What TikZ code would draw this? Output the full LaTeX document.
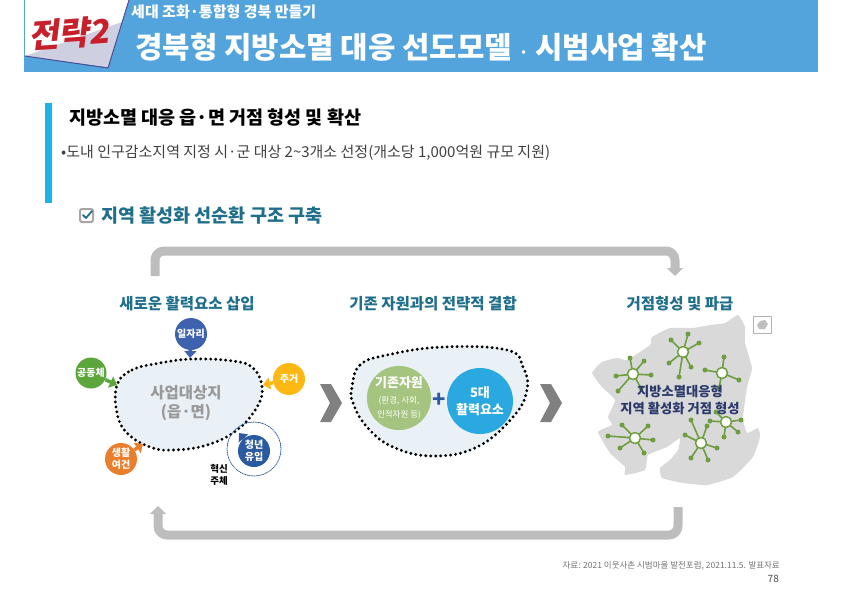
\documentclass[tikz,border=0pt]{standalone}
\usepackage{fontspec}
\setmainfont{Noto Sans CJK KR}
\usetikzlibrary{arrows.meta}
\newcommand{\fsz}[1]{\fontsize{#1}{#1}\selectfont}
\definecolor{headblue}{HTML}{53A4DC}
\definecolor{barblue}{HTML}{1CB5E5}
\definecolor{tealtext}{HTML}{1F6F8B}
\definecolor{tagred}{HTML}{C8202B}
\definecolor{navytext}{HTML}{2B3A6B}
\definecolor{loopgray}{HTML}{BDBDBD}
\definecolor{blobfill}{HTML}{E9F1F6}
\definecolor{mapgray}{HTML}{D9D9D9}
\definecolor{spokegreen}{HTML}{6E9E3F}
\definecolor{jobblue}{HTML}{3F62AE}
\definecolor{commgreen}{HTML}{5CA63C}
\definecolor{homeyellow}{HTML}{FDB813}
\definecolor{lifeorange}{HTML}{E97F2C}
\definecolor{youthblue}{HTML}{2C5AA0}
\definecolor{stockgreen}{HTML}{A5C47F}
\definecolor{fiveblue}{HTML}{29A9E0}
\tikzset{
  lefttext/.style={anchor=west, inner sep=0pt},
  coltitle/.style={inner sep=0pt, text=tealtext, font=\fsz{15.5}\bfseries},
  pin/.style={circle, minimum size=#1, inner sep=0pt, text=white, align=center, font=\fsz{10}\bfseries},
  pinarrow/.style={-{Triangle[length=7pt,width=12pt]}, line width=3.5pt, line cap=butt},
  blobline/.style={line width=3.2pt, dash pattern=on 0pt off 5pt, fill=blobfill},
  loopline/.style={line width=9pt, loopgray, rounded corners=9pt, line cap=butt, -{Triangle[length=8pt,width=16pt]}},
  chevron/.style={fill=black!50},
  tip/.style={circle, fill=spokegreen, minimum size=5pt, inner sep=0pt},
  hub/.style={circle, draw=spokegreen, fill=white, line width=1.5pt, minimum size=11pt, inner sep=0pt},
}
\begin{document}
\begin{tikzpicture}[x=1pt, y=-1pt, line join=round, line cap=round]
  \useasboundingbox (0,0) rectangle (842,595);

  % Header band
  \fill[headblue] (24,0) rectangle (818,72);
  \fill[white] (25,0) -- (129,0) -- (108,67) -- (25,56) -- cycle;
  \fill[blue!25!gray!30] (25,56) -- (122,22) -- (108,67) -- cycle;
  \draw[line width=1pt, black!60!blue!70] (25,56) -- (108,68) -- (129,0);
  \node[inner sep=0pt, text=tagred, rotate=4, xslant=0.2, font=\fsz{33}\bfseries] (tag) at (71,33) {전략2};
  \node[lefttext, text=white, font=\fsz{15}\bfseries] (subtitle) at (131,12) {세대 조화·통합형 경북 만들기};
  \node[lefttext, text=white, font=\fsz{29.8}\bfseries] (title) at (135,47) {경북형 지방소멸 대응 선도모델 {\fsz{16}·} 시범사업 확산};

  % Section heading
  \fill[barblue] (45,103) rectangle (52,203);
  \node[lefttext, font=\fsz{18.5}\bfseries] (heading) at (69,118) {지방소멸 대응 읍·면 거점 형성 및 확산};
  \node[lefttext, text=black!75, font=\fsz{15}] (bullet) at (61,153) {•도내 인구감소지역 지정 시·군 대상 2\textasciitilde3개소 선정(개소당 1,000억원 규모 지원)};

  % Check box and sub heading
  \draw[gray!70, line width=2pt, rounded corners=2pt] (80,209) rectangle (93,222);
  \draw[tealtext, line width=1.8pt] (83,215) -- (86,218) -- (92,211);
  \node[lefttext, text=tealtext, font=\fsz{18.5}\bfseries] (sub) at (101,216) {지역 활성화 선순환 구조 구축};

  % Loop arrows
  \draw[loopline] (155,276) -- (155,251) -- (675,251) -- (675,276);
  \draw[loopline] (678,507) -- (678,535) -- (158,535) -- (158,506);

  % Column titles
  \node[coltitle] (col1) at (187,304) {새로운 활력요소 삽입};
  \node[coltitle] (col2) at (433,304) {기존 자원과의 전략적 결합};
  \node[coltitle] (col3) at (680,304) {거점형성 및 파급};

  % Left blob
  \draw[blobline] plot[smooth cycle, tension=0.7] coordinates {(117,385) (132,370) (160,363) (193,359) (233,361) (253,368) (262,387) (257,407) (237,430) (207,445) (173,450) (150,447) (127,433) (117,413)};
  \node[align=center, text=black!40, font=\fsz{15.5}\bfseries] (site) at (186,403) {사업대상지\\[3pt](읍·면)};

  % Inputs around the blob
  \draw[densely dotted, youthblue, line width=0.8pt] (254,449) circle (27);
  \node[pin=32pt, fill=jobblue] (jobs) at (191,334) {일자리};
  \node[pin=31pt, fill=commgreen] (comm) at (91,373) {공동체};
  \node[pin=32pt, fill=homeyellow] (home) at (289,379) {주거};
  \node[pin=32pt, fill=lifeorange] (life) at (121,459) {생활\\[2pt]여건};
  \node[pin=32pt, fill=youthblue] (youth) at (254,451) {청년\\[2pt]유입};
  \node[inner sep=0pt, align=center, font=\fsz{9.5}\bfseries] (agent) at (219,475) {혁신\\[2pt]주체};
  \coordinate (jobstip) at (190,358);
  \coordinate (commtip) at (117,385);
  \coordinate (hometip) at (263,385);
  \coordinate (lifetip) at (143,444);
  \coordinate (youthtip) at (239,433);
  \draw[pinarrow, jobblue] (jobs) -- (jobstip);
  \draw[pinarrow, commgreen] (comm) -- (commtip);
  \draw[pinarrow, homeyellow] (home) -- (hometip);
  \draw[pinarrow, lifeorange] (life) -- (lifetip);
  \draw[pinarrow, youthblue] (youth) -- (youthtip);

  % Chevrons
  \fill[chevron] (320,384) -- (331,384) -- (342,403) -- (331,422) -- (320,422) -- (330,403) -- cycle;
  \fill[chevron] (540,384) -- (551,384) -- (562,403) -- (551,422) -- (540,422) -- (550,403) -- cycle;

  % Middle blob
  \draw[blobline] plot[smooth cycle, tension=0.7] coordinates {(352,387) (360,365) (387,355) (443,347) (507,350) (523,367) (527,390) (513,417) (477,447) (433,456) (393,447) (367,427) (353,403)};
  \node[pin=62pt, fill=stockgreen, font=\fsz{13}\bfseries] (stock) at (399,398) {기존자원\\[3pt]{\fsz{8.5}\mdseries (환경, 사회,}\\[1pt]{\fsz{8.5}\mdseries 인적자원 등)}};
  \node[pin=66pt, fill=fiveblue, font=\fsz{13}\bfseries] (five) at (480,401) {5대\\[4pt]활력요소};
  \node[inner sep=0pt, text=youthblue, font=\fsz{22}\bfseries] (plus) at (439,400) {+};

  % Map
  \fill[mapgray] plot[smooth cycle, tension=0.25] coordinates {(738,315) (745,327) (745,343) (752,368) (747,387) (743,418) (747,433) (758,428) (760,437) (753,457) (733,477) (707,485) (683,483) (662,478) (660,468) (670,460) (678,450) (680,438) (667,447) (648,455) (645,470) (625,475) (625,467) (610,453) (598,432) (612,425) (608,417) (615,400) (602,387) (592,373) (602,362) (617,358) (627,360) (650,345) (652,337) (670,328) (693,328) (710,325) (725,323)};
  \draw[gray!60, line width=0.8pt] (753,316) rectangle (771,333);
  \fill[gray!50] (757,325) -- (760,321) -- (765,320) -- (768,324) -- (765,329) -- (759,329) -- cycle;

  % Hubs and spokes
  \foreach \name/\hx/\hy/\spokes in {
    hubA/683/352/{-12/-12,5/-18,16/-9,8/15,-4/25,-14/11},
    hubB/633/374/{-3/-16,11/-13,18/1,8/14,-15/17,-17/2},
    hubC/722/373/{-17/-3,2/-16,17/7,-3/15},
    hubD/726/422/{-16/-1,-10/-10,15/-2,12/10,-2/15},
    hubE/635/438/{-27/-2,-13/-13,13/-12,18/2,9/15,-15/10},
    hubF/701/443/{-10/-23,6/-17,16/5,7/17,-10/15,-16/-8}} {
    \coordinate (\name) at (\hx,\hy);
    \foreach \ex/\ey in \spokes {
      \draw[spokegreen, line width=1.6pt] (\name) -- ++(\ex,\ey) node[tip] {};
    }
    \node[hub] at (\name) {};
  }
  \node[align=center, inner sep=0pt, text=navytext, font=\fsz{13.3}\bfseries] (mapnote) at (680,400) {지방소멸대응형\\[4pt]지역 활성화 거점 형성};

  % Source and page number
  \node[anchor=east, inner sep=0pt, text=black!55, font=\fsz{8.5}] (source) at (780,566) {자료: 2021 이웃사촌 시범마을 발전포럼, 2021.11.5. 발표자료};
  \node[anchor=east, inner sep=0pt, text=black!70, font=\fsz{10}] (page) at (779,579) {78};
\end{tikzpicture}
\end{document}
